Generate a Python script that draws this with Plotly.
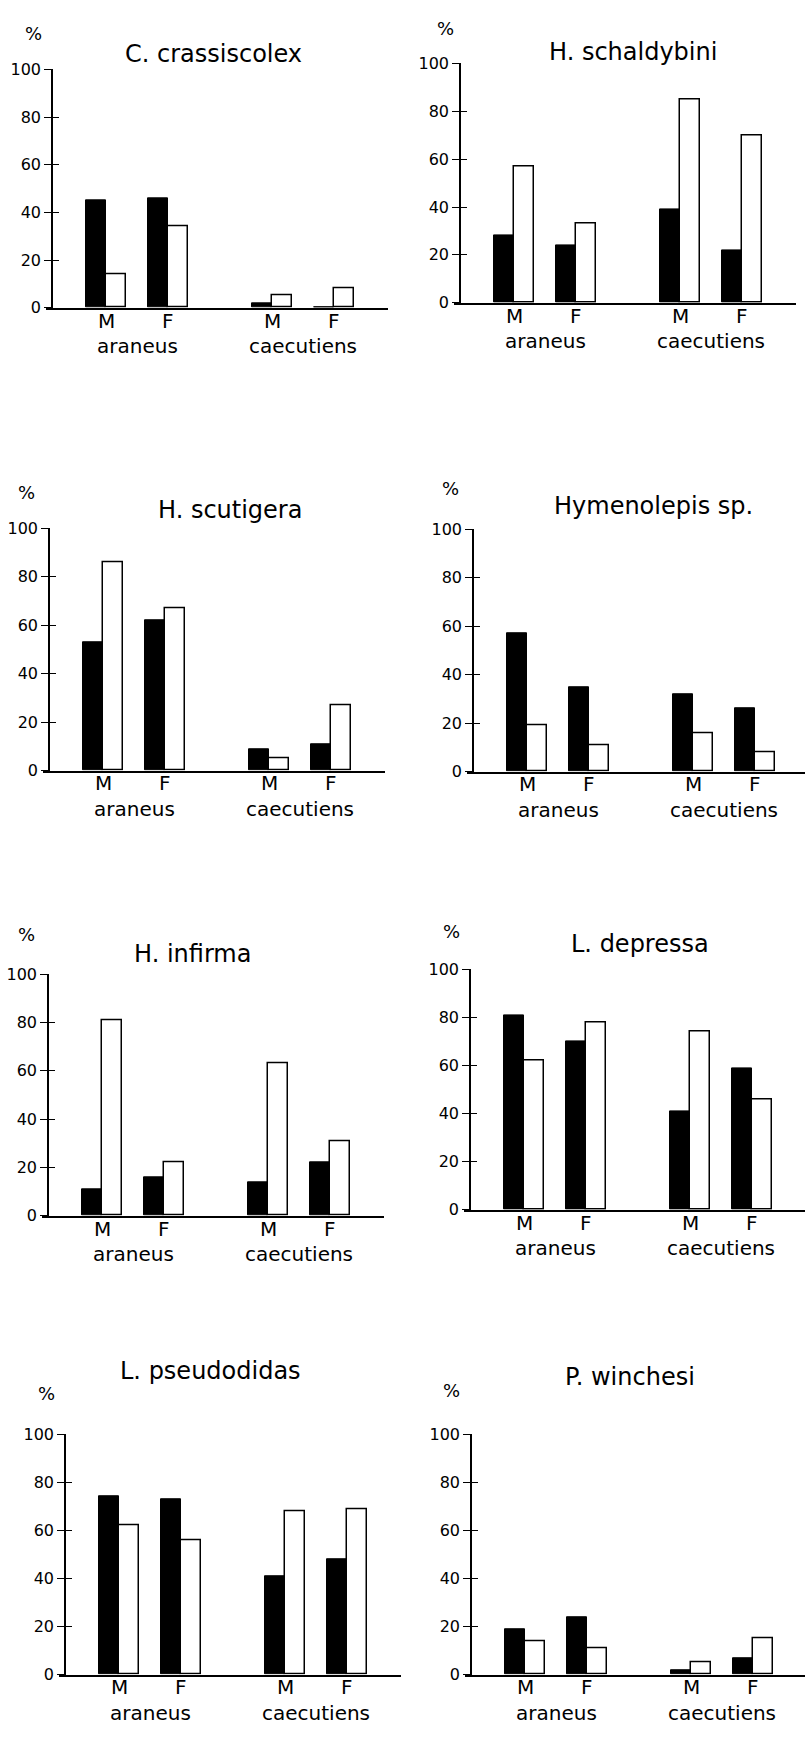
import plotly.graph_objects as go

# ---- data -------------------------------------------------------------
panel_titles = ["C. crassiscolex", "H. schaldybini", "H. scutigera", "Hymenolepis sp.",
                "H. infirma", "L. depressa", "L. pseudodidas", "P. winchesi"]
sex_labels = ["M", "F", "M", "F"]
host_labels = ["araneus", "caecutiens"]
y_ticks = [0, 20, 40, 60, 80, 100]

# order of bars in each panel: araneus M, araneus F, caecutiens M, caecutiens F
c_crassiscolex_solid = [45, 46, 2, 0]
c_crassiscolex_hollow = [14, 34, 5, 8]
h_schaldybini_solid = [28, 24, 39, 22]
h_schaldybini_hollow = [57, 33, 85, 70]
h_scutigera_solid = [53, 62, 9, 11]
h_scutigera_hollow = [86, 67, 5, 27]
hymenolepis_solid = [57, 35, 32, 26]
hymenolepis_hollow = [19, 11, 16, 8]
h_infirma_solid = [11, 16, 14, 22]
h_infirma_hollow = [81, 22, 63, 31]
l_depressa_solid = [81, 70, 41, 59]
l_depressa_hollow = [62, 78, 74, 46]
l_pseudodidas_solid = [74, 73, 41, 48]
l_pseudodidas_hollow = [62, 56, 68, 69]
p_winchesi_solid = [19, 24, 2, 7]
p_winchesi_hollow = [14, 11, 5, 15]

solid_sets = [c_crassiscolex_solid, h_schaldybini_solid, h_scutigera_solid, hymenolepis_solid,
              h_infirma_solid, l_depressa_solid, l_pseudodidas_solid, p_winchesi_solid]
hollow_sets = [c_crassiscolex_hollow, h_schaldybini_hollow, h_scutigera_hollow, hymenolepis_hollow,
               h_infirma_hollow, l_depressa_hollow, l_pseudodidas_hollow, p_winchesi_hollow]

# ---- page geometry (pixels) -------------------------------------------
W, H = 806, 1737
FONT = "DejaVu Sans"

# y-axis x, y of 100, y of 0, title centre, "%" centre
frames = [
    dict(ax=52, top=61, bot=302, title=(213, 45), pct=(33, 25)),
    dict(ax=460, top=55, bot=297, title=(633, 43), pct=(445, 20)),
    dict(ax=49, top=525, bot=770, title=(230, 507), pct=(26, 489)),
    dict(ax=473, top=526, bot=771, title=(653, 503), pct=(450, 485)),
    dict(ax=48, top=976, bot=1220, title=(192, 955), pct=(26, 936)),
    dict(ax=470, top=971, bot=1214, title=(640, 945), pct=(452, 933)),
    dict(ax=65, top=1441, bot=1684, title=(211, 1377), pct=(46, 1400)),
    dict(ax=471, top=1441, bot=1684, title=(630, 1383), pct=(452, 1397)),
]

positions = [1.0, 2.0, 3.68, 4.68]      # group centres on the x scale
host_centres = [1.5, 4.18]
UNIT = 62.0                              # pixels per x unit
BAR_W = 0.32


def fx(px):
    return px / W


def fy(py):
    return 1 - py / H


def label(text, x, xref, y, size):
    return dict(text=text, x=x, xref=xref, y=y, yref="paper",
                xanchor="center", yanchor="middle", showarrow=False,
                font=dict(family=FONT, size=size, color="black"))


fig = go.Figure()
annotations = []
layout_axes = {}

for i, fr in enumerate(frames):
    k = i + 1
    xa = f"x{k}"
    ya = f"y{k}"
    yo = f"y{k + 8}"

    left_px = fr["ax"] - 6
    right_px = min(fr["ax"] + 336, W - 1)
    x0 = positions[0] - (54 + 6) / UNIT
    x1 = x0 + (right_px - left_px) / UNIT

    fig.add_trace(go.Bar(
        x=positions, y=solid_sets[i], width=BAR_W, offset=-BAR_W,
        marker=dict(color="black", line=dict(color="black", width=1)),
        xaxis=xa, yaxis=ya, showlegend=False, hoverinfo="skip"))
    fig.add_trace(go.Bar(
        x=positions, y=hollow_sets[i], width=BAR_W, offset=0,
        marker=dict(color="white", line=dict(color="black", width=1.5)),
        xaxis=xa, yaxis=ya, showlegend=False, hoverinfo="skip"))
    # carrier for the inner half of the crossing y ticks
    fig.add_trace(go.Scatter(x=[None], y=[None], xaxis=xa, yaxis=yo,
                             showlegend=False, hoverinfo="skip"))

    layout_axes[f"xaxis{k}"] = dict(
        domain=[fx(left_px), fx(right_px)], range=[x0, x1], anchor=ya,
        showline=True, linecolor="black", linewidth=1.5, showgrid=False,
        zeroline=False, ticks="", showticklabels=False, fixedrange=True)
    layout_axes[f"yaxis{k}"] = dict(
        domain=[fy(fr["bot"]), fy(fr["top"])], range=[0, 100], anchor="free",
        position=fx(fr["ax"]), showline=True, linecolor="black", linewidth=1.5,
        showgrid=False, zeroline=False, ticks="outside", ticklen=7, tickwidth=1.2,
        tickcolor="black", tickvals=y_ticks,
        tickfont=dict(family=FONT, size=16, color="black"), fixedrange=True)
    layout_axes[f"yaxis{k + 8}"] = dict(
        domain=[fy(fr["bot"]), fy(fr["top"])], range=[0, 100], anchor="free",
        overlaying=ya, position=fx(fr["ax"]), showline=False, showgrid=False,
        zeroline=False, ticks="inside", ticklen=6, tickwidth=1.2, tickcolor="black",
        tickvals=y_ticks, showticklabels=False, fixedrange=True)

    annotations.append(label(panel_titles[i], fx(fr["title"][0]), "paper",
                             fy(fr["title"][1]), 24))
    annotations.append(label("%", fx(fr["pct"][0]), "paper", fy(fr["pct"][1]), 18))
    for p, s in zip(positions, sex_labels):
        annotations.append(label(s, p, xa, fy(fr["bot"] + 13), 20))
    for hc, hl in zip(host_centres, host_labels):
        annotations.append(label(hl, hc, xa, fy(fr["bot"] + 39), 20))

fig.update_layout(
    width=W, height=H, margin=dict(l=0, r=0, t=0, b=0),
    paper_bgcolor="white", plot_bgcolor="rgba(0,0,0,0)",
    bargap=0, annotations=annotations, showlegend=False, **layout_axes)

fig.write_html("out.html")
